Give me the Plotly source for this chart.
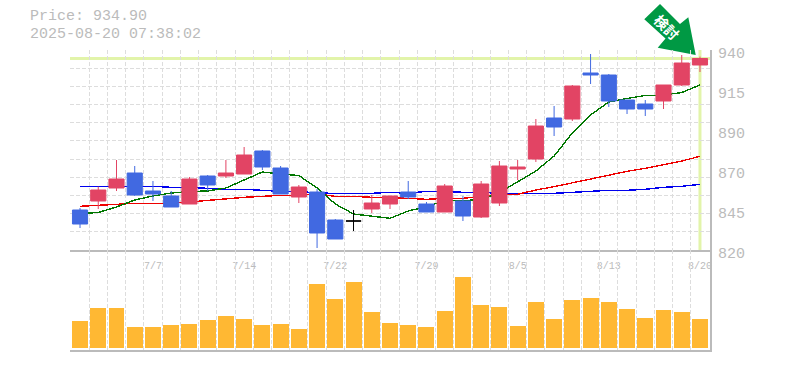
import plotly.graph_objects as go

dates = ["7/1","7/2","7/3","7/4","7/7","7/8","7/9","7/10","7/11","7/14","7/15","7/16","7/17","7/18","7/22","7/23","7/24","7/25",
         "7/28","7/29","7/30","7/31","8/1","8/4","8/5","8/6","8/7","8/8","8/12","8/13","8/14","8/15","8/18","8/19","8/20"]
labelled = ["7/7","7/14","7/22","7/29","8/5","8/13","8/20"]
opens  = [844.0,849.4,857.2,866.2,855.4,852.4,847.6,864.4,864.4,865.6,879.4,869.2,851.8,854.8,838.0,837.4,844.6,847.6,
          854.8,847.6,842.8,849.4,839.8,848.2,868.6,874.6,899.2,898.6,926.2,925.0,910.0,907.6,909.4,919.0,931.0]
highs  = [845.2,858.0,874.0,870.4,861.4,855.4,863.8,865.0,874.0,881.8,880.0,870.4,859.0,856.6,838.6,844.0,853.0,852.4,
          861.4,848.8,859.6,852.4,861.4,873.4,874.0,898.6,906.4,919.0,937.6,925.6,910.0,910.0,919.0,937.0,936.0]
lows   = [833.2,844.6,855.4,852.4,849.4,845.8,847.6,855.4,863.2,865.6,868.0,853.6,848.2,821.2,826.6,831.4,842.2,844.6,
          850.6,842.8,842.8,837.4,839.2,846.4,862.0,872.8,888.4,897.4,919.6,905.8,901.6,900.4,904.6,918.4,926.8]
closes = [835.6,856.0,862.6,853.0,853.6,845.8,862.6,859.0,866.2,877.0,869.8,853.6,857.8,830.2,826.6,837.4,848.2,852.4,
          851.8,842.8,858.4,840.4,859.6,870.4,869.8,894.4,893.8,918.4,925.0,909.4,904.6,904.6,919.0,932.2,934.9]
ma_short = [841.9,842.5,845.8,850.0,852.4,854.2,855.1,855.4,857.2,862.0,866.8,865.6,864.7,857.2,847.6,841.6,840.4,839.0,
            843.4,846.0,849.6,849.6,850.0,854.4,860.8,867.4,876.4,890.2,901.0,908.8,910.9,912.7,913.0,914.5,919.0]
ma_mid = [846.2,846.8,847.4,848.0,848.0,848.0,848.8,849.8,851.0,851.6,852.2,852.8,852.8,853.6,852.2,852.2,851.6,851.4,
          851.0,850.4,851.0,851.0,852.2,853.4,853.4,856.0,858.0,860.4,862.8,865.2,867.2,869.0,871.0,873.4,876.2]
ma_long = [858.2,858.2,858.2,858.2,858.2,857.6,857.6,857.0,856.4,856.4,855.8,855.2,855.2,854.2,854.0,854.0,854.0,854.6,
           854.0,855.2,855.2,854.6,854.6,854.0,854.0,854.0,854.0,854.6,855.2,855.8,855.8,856.4,857.6,858.2,859.4]
volumes = [27,40,40,21,21,23,24,28,32,29,23,24,19,64,49,66,36,25,23,21,37,71,43,41,22,46,29,48,50,46,39,30,38,36,29]
price_ticks = [940,916,892,868,844,820]
price_tick_text = ["940","915","890","870","845","820"]
current_price = 934.9
title_lines = ["Price: 934.90","2025-08-20 07:38:02"]
badge_text = "検討"

GRID = "#dddddd"; AXIS = "#bbbbbb"; TXT = "#bbbbbb"; HL = "#e2f4aa"
MONO = "Liberation Mono"
idx = list(range(len(dates)))
xr = [-0.55, 34.55]
x_grid = [i + 0.5 for i in range(-1, 35)]
y_grid = [939.99 - k * 120 / 11 for k in range(11)]
label_pos = [dates.index(d) for d in labelled]

def pick(f):
    return [i for i in idx if f(i)]
up = pick(lambda i: closes[i] > opens[i])
down = pick(lambda i: closes[i] < opens[i])
flat = pick(lambda i: closes[i] == opens[i])

def candle(sel, colour):
    return go.Candlestick(
        x=sel, open=[opens[i] for i in sel], high=[highs[i] for i in sel],
        low=[lows[i] for i in sel], close=[closes[i] for i in sel],
        xaxis="x3", yaxis="y3", whiskerwidth=0, showlegend=False,
        increasing=dict(line=dict(color=colour, width=1), fillcolor=colour),
        decreasing=dict(line=dict(color=colour, width=1), fillcolor=colour))

fig = go.Figure()
for vals, colour in ((ma_long, "#0000ee"), (ma_mid, "#ee0000"), (ma_short, "#007700")):
    fig.add_trace(go.Scatter(x=idx, y=vals, mode="lines", line=dict(color=colour, width=1.4),
                             xaxis="x", yaxis="y", showlegend=False))
fig.add_trace(candle(up, "#e24464"))
fig.add_trace(candle(down, "#4169e1"))
fig.add_trace(candle(flat, "#000000"))
fig.add_trace(go.Bar(x=idx, y=volumes, width=0.875, marker=dict(color="#ffb833", line_width=0),
                     xaxis="x2", yaxis="y2", showlegend=False))

DASH = "4px,2px"
minor_x = dict(tickmode="array", tickvals=x_grid, showgrid=True, gridcolor=GRID, griddash=DASH, gridwidth=1, ticklen=0)

def py(p):
    return (350 - p) / 300
def px(p):
    return (p - 70) / 640

arrow = [(660,4),(680,24),(688.3,17.3),(695.7,55),(657.7,47.7),(665.5,38.5),(644.3,19.3)]
arrow_path = "M" + " L".join(f"{px(a):.4f},{py(b):.4f}" for a, b in arrow) + " Z"

fig.update_layout(
    width=785, height=370, autosize=False,
    margin=dict(l=70, r=75, t=50, b=20, pad=0, autoexpand=False),
    paper_bgcolor="white", plot_bgcolor="white", boxmode="overlay", boxgap=0.17, boxgroupgap=0, bargap=0,
    font=dict(family=MONO, color=TXT), showlegend=False,
    xaxis=dict(domain=[0, 1], range=xr, anchor="y", showline=True, linecolor=AXIS, linewidth=2, showgrid=False,
               zeroline=False, tickmode="array", tickvals=label_pos, ticktext=labelled,
               tickfont=dict(size=10, color=TXT), ticks="", ticklen=0, ticklabelstandoff=5, minor=minor_x,
               rangeslider=dict(visible=False)),
    yaxis=dict(domain=[1/3, 1], range=[820, 940], side="right", anchor="x", showline=True, linecolor=AXIS, linewidth=2,
               showgrid=False, zeroline=False, tickmode="array", tickvals=price_ticks, ticktext=price_tick_text,
               tickfont=dict(size=15, color=TXT), ticks="", ticklabelstandoff=3, ticklabelshift=3,
               minor=dict(tickmode="array", tickvals=y_grid, showgrid=True, gridcolor=GRID, griddash=DASH, gridwidth=1, ticklen=0)),
    xaxis2=dict(domain=[0, 1], range=xr, anchor="y2", showline=True, linecolor=AXIS, linewidth=2, showgrid=False,
                zeroline=False, showticklabels=False, ticks="", minor=minor_x),
    yaxis2=dict(domain=[0, 1/3], range=[-2, 98], side="right", anchor="x2", showline=True, linecolor=AXIS, linewidth=2,
                showgrid=False, zeroline=False, showticklabels=False, ticks=""),
    xaxis3=dict(range=xr, overlaying="x", visible=False, anchor="y3", rangeslider=dict(visible=False)),
    yaxis3=dict(range=[820, 940], overlaying="y", visible=False, anchor="x3", side="right"),
    shapes=[
        dict(type="line", xref="x domain", x0=0, x1=1, yref="y", y0=current_price, y1=current_price,
             line=dict(color=HL, width=3), layer="below"),
        dict(type="line", xref="x", x0=idx[-1], x1=idx[-1], yref="y domain", y0=0, y1=1,
             line=dict(color=HL, width=3), layer="below"),
        dict(type="path", xref="paper", yref="paper", fillcolor="#009944", line=dict(width=0), path=arrow_path, layer="below"),
    ],
    annotations=[
        dict(text=title_lines[0], xref="paper", yref="paper", x=px(28), y=py(17),
             xanchor="left", yanchor="middle", showarrow=False, font=dict(family=MONO, size=15, color=TXT)),
        dict(text=title_lines[1], xref="paper", yref="paper", x=px(28), y=py(34),
             xanchor="left", yanchor="middle", showarrow=False, font=dict(family=MONO, size=15, color=TXT)),
        dict(text="<b>" + badge_text + "</b>", xref="paper", yref="paper", x=px(667), y=py(27), textangle=45,
             xanchor="center", yanchor="middle", showarrow=False,
             font=dict(family="Noto Sans CJK JP", size=14, color="#ffffff")),
    ],
)
crisp = ("document.body.style.margin='0';"
         "document.querySelectorAll('.scatterlayer path.js-line').forEach(function(p){p.style.shapeRendering='crispEdges';});")
fig.write_html("out.html", config=dict(displayModeBar=False), post_script=crisp)
